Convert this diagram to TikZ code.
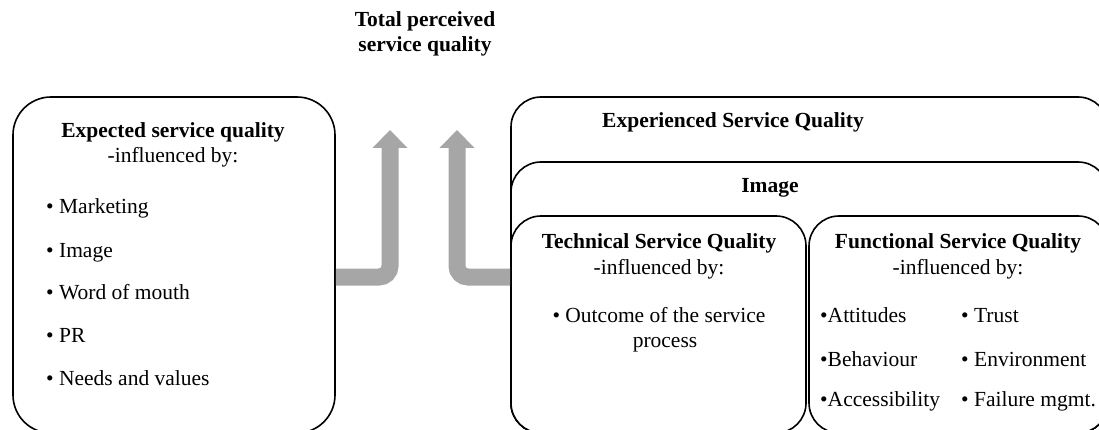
\documentclass[tikz,border=0pt]{standalone}
\usepackage{fontspec}
\setmainfont{Liberation Serif}
\usetikzlibrary{arrows.meta}
\definecolor{arrowgray}{RGB}{166,166,166}
\begin{document}
\begin{tikzpicture}[x=1pt,y=-1pt,
  box/.style={draw, line width=1.6pt, fill=white, rounded corners=#1, inner sep=0pt},
  box/.default=30pt,
  txt/.style={anchor=base, inner sep=0pt, font=\fontsize{21.5}{24}\selectfont},
  txtw/.style={txt, anchor=base west},
  head/.style={txt, font=\fontsize{21.5}{24}\selectfont\bfseries},
  shaft/.style={draw=arrowgray, line width=17pt, rounded corners=11pt,
    -{Triangle[width=35pt,length=18pt,line width=0pt]}}]
\path[use as bounding box] (0,0) rectangle (1099,430);
\clip (0,0) rectangle (1099,430);

% title
\node[head] (t1) at (425,27) {Total perceived};
\node[head] (t2) at (425,52) {service quality};

% expected quality box
\node[box=38pt, minimum width=322pt, minimum height=336pt] (exp) at (174,265) {};
\node[head] (exph) at (173,138) {Expected service quality};
\node[txt] (expi) at (173,163) {-influenced by:};
\node[txtw] (e1) at (46,214) {• Marketing};
\node[txtw] (e2) at (46,257) {• Image};
\node[txtw] (e3) at (46,299) {• Word of mouth};
\node[txtw] (e4) at (46,342) {• PR};
\node[txtw] (e5) at (46,385) {• Needs and values};

% nested boxes on the right
\node[box, minimum width=597pt, minimum height=336pt] (esq) at (809.5,265) {};
\node[head] (esqh) at (733,128) {Experienced Service Quality};
\node[box, minimum width=597pt, minimum height=271pt] (img) at (809.5,297.5) {};
\node[head] (imgh) at (770,193) {Image};
\node[box, minimum width=295pt, minimum height=217pt] (tech) at (658.5,324.5) {};
\node[box, minimum width=299pt, minimum height=217pt] (func) at (958.5,324.5) {};

% technical quality
\node[head] (techh) at (659,248) {Technical Service Quality};
\node[txt] (techi) at (659,274) {-influenced by:};
\node[txt] (tech1) at (659,322) {• Outcome of the service};
\node[txt] (tech2) at (665,347) {process};

% functional quality
\node[head] (funch) at (958,248) {Functional Service Quality};
\node[txt] (funci) at (958,274) {-influenced by:};
\node[txtw] (f1) at (820,322) {•Attitudes};
\node[txtw] (f2) at (820,366) {•Behaviour};
\node[txtw] (f3) at (820,406) {•Accessibility};
\node[txtw] (f4) at (961,322) {• Trust};
\node[txtw] (f5) at (961,366) {• Environment};
\node[txtw] (f6) at (961,406) {• Failure mgmt.};

% arrows leading up to the total perceived quality
\coordinate (ltip) at (390,130);
\coordinate (rtip) at (457,130);
\draw[shaft] (exp.east |- 0,277) -| (ltip);
\draw[shaft] (esq.west |- 0,277) -| (rtip);
\end{tikzpicture}
\end{document}
